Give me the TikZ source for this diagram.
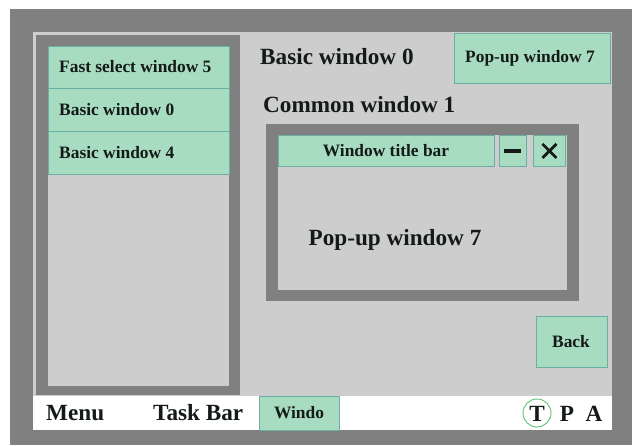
\documentclass[tikz,border=0pt]{standalone}
\usepackage{fontspec}
\setmainfont{Liberation Serif}
\definecolor{bgray}{HTML}{808080}
\definecolor{panel}{HTML}{CDCDCD}
\definecolor{btn}{HTML}{A8DCC0}
\definecolor{btnline}{HTML}{6AAEA6}
\definecolor{ringc}{HTML}{5CC070}
\definecolor{ink}{HTML}{141A18}
\tikzset{
  px/.style={x=1pt,y=-1pt},
  greenbtn/.style={fill=btn,draw=btnline,line width=0.8pt},
  small/.style={font=\fontsize{17.4}{19}\selectfont\bfseries,text=ink},
  large/.style={font=\fontsize{23.2}{25}\selectfont\bfseries,text=ink},
  frame/.style={fill=bgray},
}
\begin{document}
\begin{tikzpicture}[px]
\useasboundingbox (0,0) rectangle (632,445);
\fill[white] (0,0) rectangle (632,445);
\fill[bgray] (10,9) rectangle (632,445);
% main panel
\fill[panel] (33,32) rectangle (612,430);
% left frame
\fill[frame] (36,35) rectangle (240,395);
\fill[panel] (48,46) rectangle (229,386);
\node[greenbtn,minimum width=181pt,minimum height=42pt,anchor=north west,inner sep=0pt] (fs5) at (48,46) {};
\node[greenbtn,minimum width=181pt,minimum height=43pt,anchor=north west,inner sep=0pt] (bw0) at (48,88) {};
\node[greenbtn,minimum width=181pt,minimum height=43pt,anchor=north west,inner sep=0pt] (bw4) at (48,131) {};
\node[small,anchor=west,inner sep=0pt] (fs5t) at (59,67) {Fast select window 5};
\node[small,anchor=west,inner sep=0pt] (bw0t) at (59,109.5) {Basic window 0};
\node[small,anchor=west,inner sep=0pt] (bw4t) at (59,152.5) {Basic window 4};
% headings
\node[large,anchor=west,inner sep=0pt] (bwh) at (260,57) {Basic window 0};
\node[greenbtn,minimum width=156pt,minimum height=50pt,anchor=north west,inner sep=0pt] (pw7) at (454,33) {};
\node[small,inner sep=0pt] (pw7t) at (530,58) {Pop-up window 7};
\node[large,anchor=west,inner sep=0pt] (cw1) at (263,105) {Common window 1};
% common window frame
\fill[frame] (266,124) rectangle (579,301);
\fill[panel] (278,135) rectangle (567,290);
\node[greenbtn,minimum width=216pt,minimum height=31pt,anchor=north west,inner sep=0pt] (title) at (278,135) {};
\node[small,inner sep=0pt] (titlet) at (386,151) {Window title bar};
\node[greenbtn,minimum width=27pt,minimum height=31pt,anchor=north west,inner sep=0pt] (minb) at (499,135) {};
\node[greenbtn,minimum width=32pt,minimum height=31pt,anchor=north west,inner sep=0pt] (xb) at (533,135) {};
\draw[line width=3.2pt,ink] ([xshift=-8.5pt]minb.center) -- ([xshift=8.5pt]minb.center);
\draw[line width=2.8pt,ink] ([shift={(-7pt,-7pt)}]xb.center) -- ([shift={(7pt,7pt)}]xb.center);
\draw[line width=2.8pt,ink] ([shift={(-7pt,7pt)}]xb.center) -- ([shift={(7pt,-7pt)}]xb.center);
\node[large,inner sep=0pt] (popt) at (395,240) {Pop-up window 7};
% back
\node[greenbtn,minimum width=71pt,minimum height=51pt,anchor=north west,inner sep=0pt] (back) at (536,316) {};
\node[small,inner sep=0pt] (backt) at (571,341.5) {Back};
% taskbar
\fill[white] (33,396) rectangle (612,430);
\node[large,anchor=west,inner sep=0pt] (menu) at (46,413) {Menu};
\node[large,anchor=west,inner sep=0pt] (task) at (153,413) {Task Bar};
\node[greenbtn,minimum width=80pt,minimum height=34pt,anchor=north west,inner sep=0pt] (windo) at (259,396) {};
\node[small,inner sep=0pt] (windot) at (299,413) {Windo};
\node[draw=ringc,line width=0.9pt,circle,minimum size=28pt,inner sep=0pt] (tc) at (537,413) {};
\node[large,inner sep=0pt] (tt) at (537,414) {T};
\node[large,inner sep=0pt] (pp) at (567,414) {P};
\node[large,inner sep=0pt] (aa) at (594,414) {A};
\end{tikzpicture}
\end{document}
